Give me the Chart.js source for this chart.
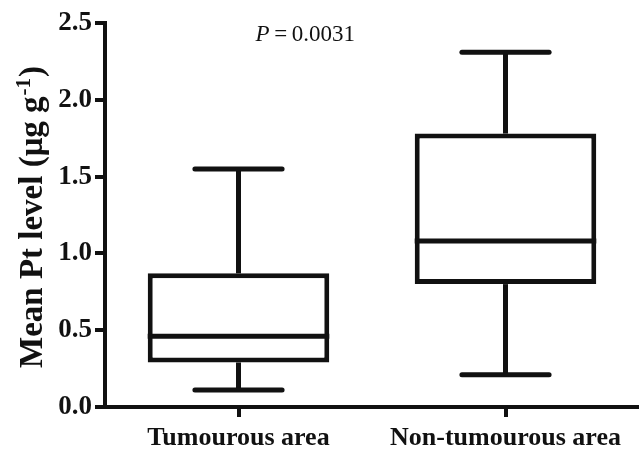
<!DOCTYPE html>
<html>
<head>
<meta charset="utf-8">
<script src="https://cdn.jsdelivr.net/npm/chart.js@4/dist/chart.umd.min.js"></script>
<style>
  html, body { margin: 0; padding: 0; background: #fff; }
  #wrap { width: 639px; height: 449px; }
</style>
</head>
<body>
<div id="wrap"><canvas id="chart"></canvas></div>
<script>
// box plot values (µg g-1)
const categories = ['Tumourous area', 'Non-tumourous area'];
const whiskerMin = [0.11, 0.21];
const lowerQuartile = [0.29, 0.80];
const median = [0.46, 1.08];
const upperQuartile = [0.87, 1.78];
const whiskerMax = [1.55, 2.31];
const yTicks = [0, 0.5, 1.0, 1.5, 2.0, 2.5];
const pValue = '0.0031';

const ink = '#111';
Chart.defaults.font.family = '"Liberation Serif", "Times New Roman", serif';
Chart.defaults.color = ink;

// whiskers, caps and median lines on top of the floating bars
const whiskerPlugin = {
  id: 'whiskers',
  afterDatasetsDraw(chart) {
    const { ctx, scales: { y } } = chart;
    const meta = chart.getDatasetMeta(0);
    ctx.save();
    ctx.strokeStyle = ink;
    ctx.lineWidth = 5;
    meta.data.forEach((bar, i) => {
      const { x, width } = bar.getProps(['x', 'width'], true);
      const half = width / 2;
      const cap = width * 0.24;
      const seg = (x1, y1, x2, y2, lineCap) => {
        ctx.lineCap = lineCap;
        ctx.beginPath();
        ctx.moveTo(x1, y1);
        ctx.lineTo(x2, y2);
        ctx.stroke();
      };
      const yMed = y.getPixelForValue(median[i]);
      seg(x - half, yMed, x + half, yMed, 'butt');
      seg(x, y.getPixelForValue(upperQuartile[i]), x, y.getPixelForValue(whiskerMax[i]), 'butt');
      seg(x, y.getPixelForValue(lowerQuartile[i]), x, y.getPixelForValue(whiskerMin[i]), 'butt');
      const yHi = y.getPixelForValue(whiskerMax[i]);
      const yLo = y.getPixelForValue(whiskerMin[i]);
      seg(x - cap, yHi, x + cap, yHi, 'round');
      seg(x - cap, yLo, x + cap, yLo, 'round');
    });
    ctx.restore();
  }
};

// y title with superscript, and the P value note
const textPlugin = {
  id: 'texts',
  afterDraw(chart) {
    const { ctx, scales: { x, y } } = chart;
    ctx.save();
    ctx.fillStyle = ink;
    ctx.textBaseline = 'alphabetic';

    // rotated axis title
    ctx.translate(42, 368);
    ctx.rotate(-Math.PI / 2);
    ctx.font = 'bold 33px "Liberation Serif"';
    const main = 'Mean Pt level (\u03bcg g';
    ctx.fillText(main, 0, 0);
    let pos = ctx.measureText(main).width;
    ctx.font = 'bold 21px "Liberation Serif"';
    ctx.fillText('-1', pos + 1, -12);
    pos += ctx.measureText('-1').width + 2;
    ctx.font = 'bold 33px "Liberation Serif"';
    ctx.fillText(')', pos, 0);
    ctx.restore();

    // P value
    ctx.save();
    ctx.fillStyle = ink;
    ctx.textBaseline = 'alphabetic';
    const px = x.getPixelForValue(0.25);
    const py = y.getPixelForValue(2.38);
    ctx.font = 'italic 23px "Liberation Serif"';
    const wP = ctx.measureText('P').width;
    ctx.font = '23px "Liberation Serif"';
    const rest = '\u2009=\u2009' + pValue;
    const wR = ctx.measureText(rest).width;
    const start = px - (wP + wR) / 2;
    ctx.font = 'italic 23px "Liberation Serif"';
    ctx.fillText('P', start, py);
    ctx.font = '23px "Liberation Serif"';
    ctx.fillText(rest, start + wP, py);
    ctx.restore();
  }
};

document.addEventListener('DOMContentLoaded', () => {
  const ctx = document.getElementById('chart').getContext('2d');
  new Chart(ctx, {
    type: 'bar',
    data: {
      labels: categories,
      datasets: [{
        label: 'Interquartile range',
        data: categories.map((c, i) => [lowerQuartile[i], upperQuartile[i]]),
        backgroundColor: '#fff',
        borderColor: ink,
        borderWidth: 5,
        borderSkipped: false,
        barPercentage: 0.68,
        categoryPercentage: 1.0
      }]
    },
    options: {
      responsive: true,
      maintainAspectRatio: false,
      animation: false,
      layout: { padding: { top: 23, right: 0, bottom: 0, left: 0 } },
      plugins: {
        legend: { display: false },
        tooltip: { enabled: false }
      },
      scales: {
        x: {
          offset: true,
          afterFit(scale) { scale.height = 42; },
          border: { display: true, color: ink, width: 4 },
          grid: { display: true, drawOnChartArea: false, drawTicks: true, tickLength: 10, offset: false, color: ink, lineWidth: 4 },
          ticks: { font: { size: 26, weight: 'bold' }, color: ink, padding: 6, maxRotation: 0, autoSkip: false }
        },
        y: {
          min: 0,
          max: 2.5,
          afterFit(scale) { scale.width = 105; },
          afterBuildTicks(scale) { scale.ticks = yTicks.map(v => ({ value: v })); },
          border: { display: true, color: ink, width: 4 },
          grid: { display: true, drawOnChartArea: false, drawTicks: true, tickLength: 10, color: ink, lineWidth: 4 },
          ticks: { font: { size: 27, weight: 'bold' }, color: ink, padding: 3, callback: v => v.toFixed(1) }
        }
      }
    },
    plugins: [whiskerPlugin, textPlugin]
  });
});
</script>
</body>
</html>
